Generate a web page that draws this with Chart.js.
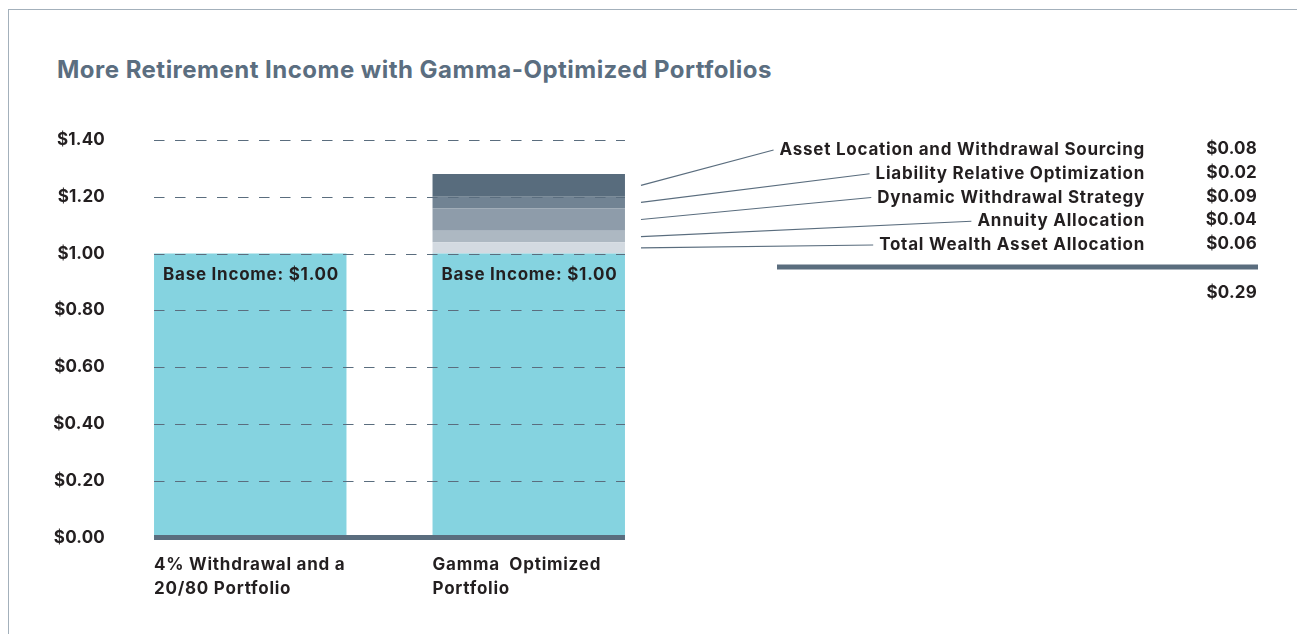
<!DOCTYPE html>
<html>
<head>
<meta charset="utf-8">
<script src="https://cdn.jsdelivr.net/npm/chart.js@4.4.0/dist/chart.umd.min.js"></script>
<style>
  html,body{margin:0;padding:0;background:#fff;overflow:hidden;}
  #wrap{position:relative;width:1297px;height:634px;}
  #frame{position:absolute;left:8px;top:9px;right:-10px;bottom:-10px;border-top:1.5px solid #a3b0bb;border-left:1.5px solid #a3b0bb;}
  #title{position:absolute;left:57px;top:55px;font:700 24px Inter,sans-serif;letter-spacing:0.48px;color:#5b6e80;white-space:nowrap;}
  canvas{position:absolute;left:0;top:0;}
</style>
</head>
<body>
<div id="wrap">
  <div id="frame"></div>
  <div id="title">More Retirement Income with Gamma-Optimized Portfolios</div>
  <canvas id="chart" width="1297" height="634"></canvas>
</div>
<script>
// === Dados ===
const categories = [["4% Withdrawal and a","20/80 Portfolio"],["Gamma  Optimized","Portfolio"]];
const baseIncome = [1.00, 1.00];
const yTicks = [0,0.2,0.4,0.6,0.8,1.0,1.2,1.4];

// camadas de baixo para cima (altura)
const segmentNames = ["Total Wealth Asset Allocation","Annuity Allocation","Dynamic Withdrawal Strategy","Liability Relative Optimization","Asset Location and Withdrawal Sourcing"];
const segmentHeights = [0.04, 0.04, 0.08, 0.04, 0.08];
const segmentLabels = ["$0.06","$0.04","$0.09","$0.02","$0.08"];
const segmentColors = ["#d3dae1","#adb8c2","#8e9caa","#718393","#586c7d"];
const totalLabel = "$0.29";

const DARK = "#5a6d7e";
const TEXT = "#231f20";
const FONT = "Inter, sans-serif";
const SPACING = "0.75px";
const NUM_SPACING = "0.2px";

// === Plugin de anotações ===
const annotPlugin = {
  id: "annot",
  beforeDraw(chart){
    chart.ctx.letterSpacing = NUM_SPACING;
  },
  afterDatasetsDraw(chart){
    const ctx = chart.ctx;
    const y = chart.scales.y;
    const base = chart.getDatasetMeta(0).data;
    const left = base[0].x - base[0].width/2;
    const right = base[1].x + base[1].width/2;

    // linhas tracejadas
    ctx.save();
    ctx.strokeStyle = DARK;
    ctx.lineWidth = 1;
    ctx.setLineDash([10.5,10.5]);
    yTicks.forEach(v=>{
      if(v===0) return;
      const py = Math.round(y.getPixelForValue(v)) + 0.5;
      ctx.beginPath();
      ctx.moveTo(left, py);
      ctx.lineTo(right, py);
      ctx.stroke();
    });
    ctx.restore();

    // linha de base
    ctx.save();
    ctx.fillStyle = DARK;
    const y0 = y.getPixelForValue(0);
    ctx.fillRect(left, y0 - 2.5, right - left, 5);
    ctx.restore();

    ctx.save();
    ctx.letterSpacing = SPACING;
    ctx.fillStyle = TEXT;
    ctx.font = "bold 17px " + FONT;
    ctx.textBaseline = "middle";
    ctx.textAlign = "left";

    // Base Income
    base.forEach(b=>{
      ctx.fillText("Base Income: $1.00", b.x - b.width/2 + 9, y.getPixelForValue(1) + 21);
    });

    // rótulos do eixo x
    base.forEach((b,i)=>{
      categories[i].forEach((line,j)=>{
        ctx.fillText(line, b.x - b.width/2, 565 + j*24);
      });
    });

    // legenda à direita
    const textRight = 1145, valRight = 1257;
    const rowTop = 150, rowStep = 23.75;
    const n = segmentNames.length;
    for(let k=0;k<n;k++){
      const idx = n - 1 - k; // de cima para baixo
      const rowY = rowTop + k*rowStep;
      const seg = chart.getDatasetMeta(idx+1).data[1];
      const segMid = (seg.y + seg.base)/2;
      ctx.textAlign = "right";
      ctx.fillStyle = TEXT;
      ctx.letterSpacing = SPACING;
      ctx.fillText(segmentNames[idx], textRight, rowY);
      const tw = ctx.measureText(segmentNames[idx]).width;
      ctx.letterSpacing = NUM_SPACING;
      ctx.fillText(segmentLabels[idx], valRight, rowY - 1);
      ctx.strokeStyle = DARK;
      ctx.lineWidth = 1.2;
      ctx.beginPath();
      ctx.moveTo(right + 16, segMid);
      ctx.lineTo(textRight - tw - 6, rowY);
      ctx.stroke();
    }

    // linha total
    ctx.fillStyle = DARK;
    ctx.fillRect(777, 264.5, 481, 5);
    ctx.fillStyle = TEXT;
    ctx.textAlign = "right";
    ctx.letterSpacing = NUM_SPACING;
    ctx.fillText(totalLabel, valRight, 293);
    ctx.restore();
  }
};

const datasets = [{
  label: "Base Income",
  data: baseIncome,
  backgroundColor: "#85d3e0",
  barPercentage: 1,
  categoryPercentage: 0.691,
  stack: "s"
}];
segmentNames.forEach((name,i)=>{
  datasets.push({
    label: name,
    data: [null, segmentHeights[i]],
    backgroundColor: segmentColors[i],
    barPercentage: 1,
    categoryPercentage: 0.691,
    stack: "s"
  });
});

new Chart(document.getElementById("chart"),{
  type: "bar",
  data: { labels: categories.map(c=>c.join(" ")), datasets },
  options: {
    responsive: false,
    animation: false,
    layout: { padding: { left: 0, top: 140, right: 629, bottom: 96.5 } },
    plugins: { legend: { display: false }, tooltip: { enabled: false } },
    scales: {
      x: { display: false, stacked: true },
      y: {
        stacked: true,
        min: 0, max: 1.4,
        afterFit(scale){ scale.width = 111; },
        grid: { display: false, drawTicks: false },
        border: { display: false },
        afterBuildTicks(scale){ scale.ticks = yTicks.map(v=>({value:v})); },
        ticks: {
          padding: 6,
          color: TEXT,
          font: { family: FONT, size: 17, weight: "bold" },
          callback: v => "$" + Number(v).toFixed(2)
        }
      }
    }
  },
  plugins: [annotPlugin]
});
</script>
</body>
</html>
